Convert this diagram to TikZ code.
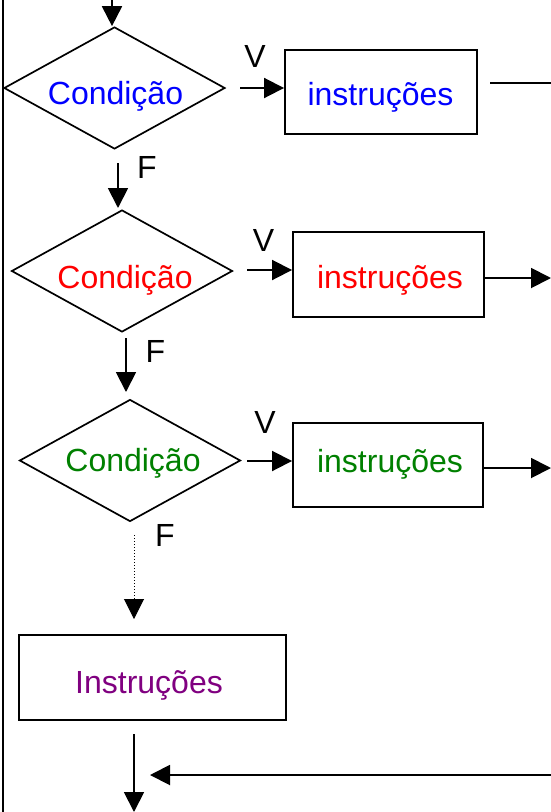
\documentclass[tikz,border=0pt]{standalone}
\usepackage{fontspec}
\setmainfont{Liberation Sans}
\usetikzlibrary{shapes.geometric,arrows.meta}
\definecolor{cblue}{RGB}{0,0,255}
\definecolor{cred}{RGB}{255,0,0}
\definecolor{cgreen}{RGB}{0,128,0}
\definecolor{cpurple}{RGB}{128,0,128}
\begin{document}
\begin{tikzpicture}[x=1pt,y=-1pt,
  line width=1.9pt,
  dia/.style={draw,diamond,inner sep=0pt,line width=1.7pt,minimum width=221pt,minimum height=122pt},
  box/.style={draw,rectangle,inner sep=0pt},
  lbl/.style={anchor=base,inner sep=0pt,font=\fontsize{32}{38}\selectfont},
  arr/.style={-{Triangle[length=20pt,width=20pt]}},
]
\useasboundingbox (0,0) rectangle (551,812);

% left border line
\coordinate (lt) at (3,0);
\coordinate (lb) at (3,812);
\draw (lt) -- (lb);

% shapes
\node[dia] (d1) at (114.5,88) {};
\node[dia] (d2) at (122,271) {};
\node[dia] (d3) at (130,460.5) {};
\node[box,minimum width=192pt,minimum height=84pt] (b1) at (381,92) {};
\node[box,minimum width=191pt,minimum height=85pt] (b2) at (388.5,274.5) {};
\node[box,minimum width=190pt,minimum height=84pt] (b3) at (388,465) {};
\node[box,minimum width=267pt,minimum height=85pt] (b4) at (152.5,677.5) {};

% texts
\node[lbl,text=cblue] (c1) at (115.5,104) {Condição};
\node[lbl,text=cred] (c2) at (125,288) {Condição};
\node[lbl,text=cgreen] (c3) at (133,471.7) {Condição};
\node[lbl,text=cblue] (i1) at (380.5,105) {instruções};
\node[lbl,text=cred] (i2) at (390,288.3) {instruções};
\node[lbl,text=cgreen] (i3) at (390,472.7) {instruções};
\node[lbl,text=cpurple] (i4) at (149,693) {Instruções};

% V / F labels
\node[lbl] (v1l) at (255,67) {V};
\node[lbl] (v2l) at (263.5,251.7) {V};
\node[lbl] (v3l) at (265,433) {V};
\node[lbl] (f1l) at (147,178) {F};
\node[lbl] (f2l) at (155.5,362.7) {F};
\node[lbl] (f3l) at (165,546.7) {F};

% top entry arrow
\coordinate (top) at (112,0);
\draw[arr] (top) -- (top |- d1.north);

% V arrows
\coordinate (v1) at (240,88);
\coordinate (v2) at (247,270);
\coordinate (v3) at (247,461);
\draw[arr] (v1) -- (v1 -| b1.west);
\draw[arr] (v2) -- (v2 -| b2.west);
\draw[arr] (v3) -- (v3 -| b3.west);

% outgoing lines
\coordinate (o1s) at (490,83);
\coordinate (o1) at (551,83);
\draw (o1s) -- (o1);
\coordinate (o2) at (551,278);
\coordinate (o3) at (551,468);
\draw[arr] (o2 -| b2.east) -- (o2);
\draw[arr] (o3 -| b3.east) -- (o3);

% F arrows
\coordinate (f1s) at (118,163);
\coordinate (f1e) at (118,208);
\draw[arr] (f1s) -- (f1e);
\coordinate (f2s) at (126,338);
\coordinate (f2e) at (126,392);
\draw[arr] (f2s) -- (f2e);
\coordinate (f3s) at (134,535);
\coordinate (f3e) at (134,619);
\draw[arr,dotted,line width=1pt] (f3s) -- (f3e);

% bottom arrows
\coordinate (bs) at (134,734);
\coordinate (be) at (134,812);
\draw[arr] (bs) -- (be);
\coordinate (hs) at (551,775);
\coordinate (he) at (150,775);
\draw[arr] (hs) -- (he);
\end{tikzpicture}
\end{document}
